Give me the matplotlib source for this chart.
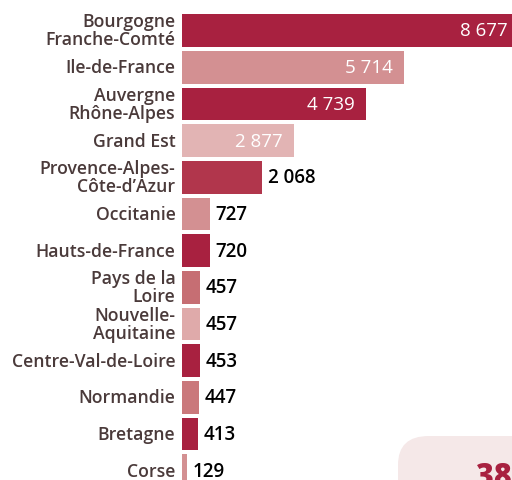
import matplotlib.pyplot as plt
from matplotlib.patches import FancyBboxPatch

# Données (tri décroissant)
regions = ['Bourgogne\nFranche-Comté', 'Ile-de-France', 'Auvergne\nRhône-Alpes', 'Grand Est',
           'Provence-Alpes-\nCôte-d\u2019Azur', 'Occitanie', 'Hauts-de-France', 'Pays de la\nLoire',
           'Nouvelle-\nAquitaine', 'Centre-Val-de-Loire', 'Normandie', 'Bretagne', 'Corse']
values = [8677, 5714, 4739, 2877, 2068, 727, 720, 457, 457, 453, 447, 413, 129]
value_labels = ['8 677', '5 714', '4 739', '2 877', '2 068', '727', '720', '457', '457',
                '453', '447', '413', '129']
colors = ['#A82140', '#D39092', '#A82140', '#E2B4B4', '#B1364C', '#D39092', '#A82140',
          '#C66E73', '#DFAAAA', '#A82140', '#CA787B', '#A82140', '#D39092']
inside = [True, True, True, True] + [False] * 9

plt.rcParams['font.family'] = ['Open Sans', 'DejaVu Sans']

fig = plt.figure(figsize=(5.12, 4.81), dpi=100)
ax = fig.add_axes([182 / 512, 0, 1 - 182 / 512, 1])

y = list(range(len(values)))
ax.barh(y, values, height=0.89, color=colors)
ax.set_xlim(0, 8500)
ax.set_ylim(12.25, -0.858)
ax.axis('off')

for i in y:
    ax.text(-170, i, regions[i], ha='right', va='center', fontsize=12.7, fontweight='semibold',
            color='#4A3A3A', linespacing=1.0)
    if inside[i]:
        ax.annotate(value_labels[i], (values[i], i), xytext=(-8, 0), textcoords='offset points',
                    ha='right', va='center', fontsize=13.5, color='white',
                    annotation_clip=False)
    else:
        ax.annotate(value_labels[i], (values[i], i), xytext=(4, 0), textcoords='offset points',
                    ha='left', va='center', fontsize=13.5, color='black', fontweight='semibold')

# encadré décoratif en bas à droite
box = FancyBboxPatch((398 / 512, -0.2), 0.5, 0.2 + 44 / 481, boxstyle='round,pad=0,rounding_size=0.06',
                     transform=fig.transFigure, facecolor='#F5E8E8', edgecolor='none', zorder=0)
fig.patches.append(box)
fig.text(476 / 512, 1 - 462 / 481, '38', ha='left', va='top', fontsize=22, fontweight='heavy',
         color='#A82140')

fig.savefig('out.png', dpi=100)
